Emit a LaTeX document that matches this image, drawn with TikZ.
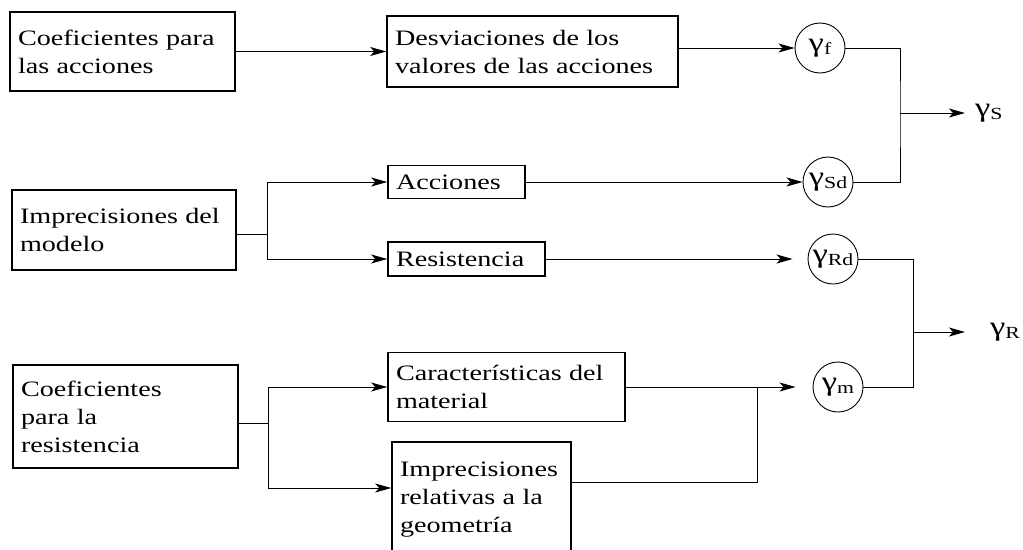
\documentclass[tikz,border=0pt]{standalone}
\usepackage{fontspec}
\setmainfont{Liberation Serif}[FakeStretch=1.28]
\usetikzlibrary{arrows.meta}
\newcommand{\gam}[1]{{\fontsize{27}{27}\selectfont γ}\raisebox{-3pt}{\fontsize{17}{17}\selectfont #1}}

\begin{document}
\begin{tikzpicture}[x=1pt,y=-1pt,
    font=\fontsize{22}{28}\selectfont,
    box/.style={draw,line width=1.6pt,align=left,inner xsep=8pt,inner ysep=0pt},
    coef/.style={draw,circle,line width=0.9pt,minimum size=50pt,inner sep=0pt},
    conn/.style={line width=1pt},
    arr/.style={conn,-{Stealth[length=16pt,width=9pt,inset=4pt]}}]
        \useasboundingbox (0,0) rectangle (1023,549);
        \node[box,text width=209pt,minimum height=79pt] at (122.5,51.5) (cpa) {Coeficientes para\\las acciones};
        \node[box,text width=275pt,minimum height=71pt] at (532.5,51.5) (desv) {Desviaciones de los\\valores de las acciones};
        \node[box,text width=208pt,minimum height=80pt] at (124,230) (mod) {Imprecisiones del\\modelo};
        \node[box,text width=121pt,minimum height=33pt] at (456.5,182) (acc) {Acciones};
        \node[box,text width=141pt,minimum height=34pt] at (466.5,259) (res) {Resistencia};
        \node[box,text width=209pt,minimum height=103pt] at (125.5,416.5) (cpr) {Coeficientes\\para la\\resistencia};
        \node[box,text width=221pt,minimum height=69pt] at (506.5,387) (car) {Características del\\material};
        \node[box,text width=163pt,minimum height=116pt] at (481.5,500) (geo) {Imprecisiones\\relativas a la\\geometría};
        \node[coef] at (820,48) (gf) {\gam{f}};
        \node[coef] at (828,182) (gsd) {\gam{Sd}};
        \node[coef] at (833,259) (grd) {\gam{Rd}};
        \node[coef] at (838,387) (gm) {\gam{m}};
        \node[anchor=west,inner sep=0pt] at (975,113) (gs) {\gam{S}};
        \node[anchor=west,inner sep=0pt] at (990,332) (gr) {\gam{R}};
        \coordinate (f1) at (267,234);
        \coordinate (f2) at (268,423);
        \coordinate (j3) at (757,387);
        \coordinate (js) at (900,113);
        \coordinate (jr) at (913,332);
        \draw[arr] (cpa) -- (desv);
        \draw[arr] (desv.east |- gf) -- (gf);
        \draw[conn] (mod.east |- f1) -- (f1);
        \draw[arr] (f1) |- (acc.west);
        \draw[arr] (f1) |- (res.west);
        \draw[arr] (acc) -- (gsd);
        \draw[arr,shorten >=15pt] (res) -- (grd);
        \draw[conn] (cpr.east |- f2) -- (f2);
        \draw[arr] (f2) |- (car.west);
        \draw[arr] (f2) |- ([yshift=12pt]geo.west);
        \draw[arr,shorten >=17pt] (car) -- (gm);
        \draw[conn] ([yshift=18pt]geo.east) -| (j3);
        \draw[conn] (gf) -| (js) |- (gsd);
        \draw[arr,shorten >=10pt] (js) -- (gs.west);
        \draw[conn] (grd) -| (jr) |- (gm);
        \draw[arr,shorten >=25pt] (jr) -- (gr.west);
      \end{tikzpicture}
\end{document}
